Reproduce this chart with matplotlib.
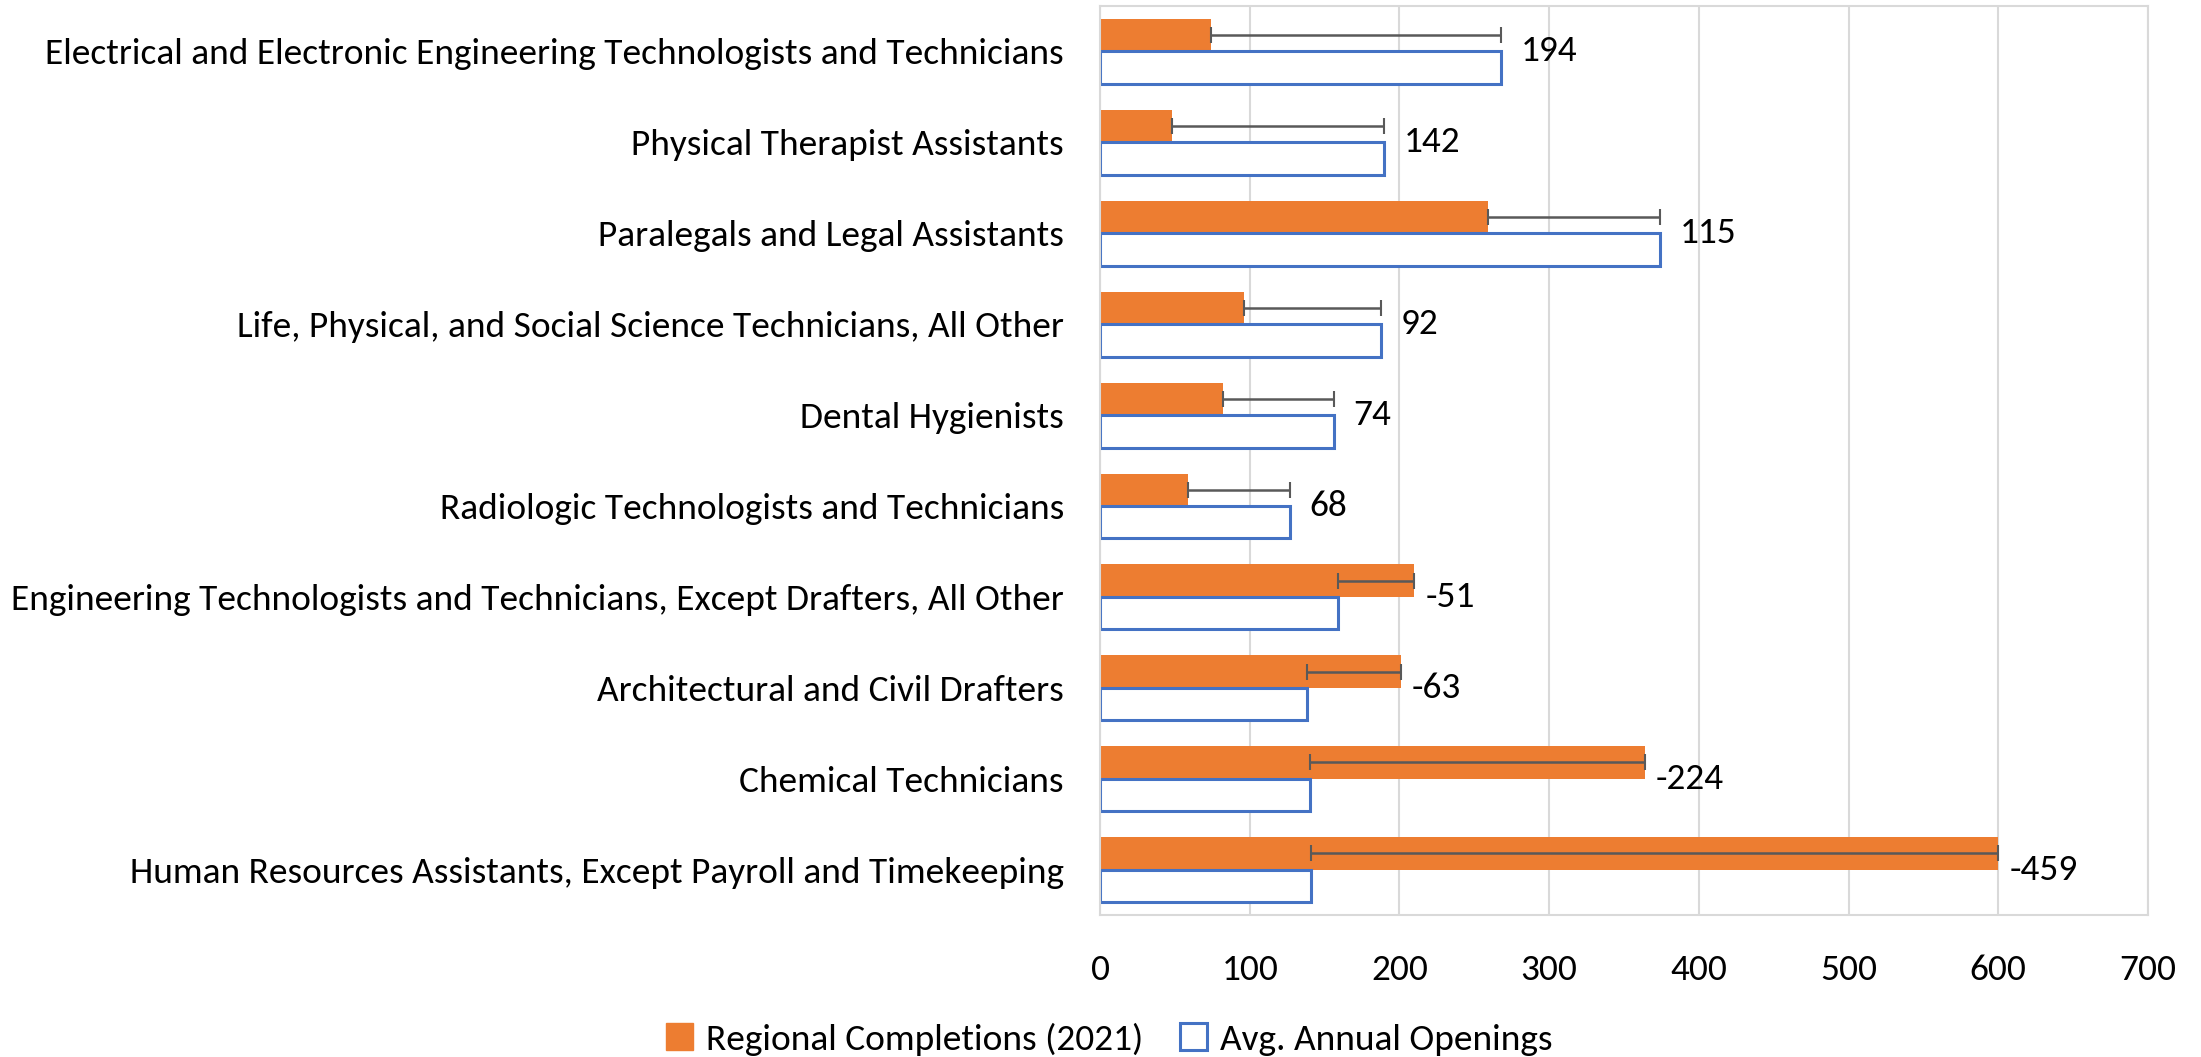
import matplotlib
matplotlib.use("Agg")
import matplotlib.pyplot as plt
from matplotlib import font_manager
from matplotlib.patches import Patch
from matplotlib.textpath import TextPath
from matplotlib.font_manager import FontProperties
import numpy as np

# --- dati ---
occupations = [
    "Electrical and Electronic Engineering Technologists and Technicians",
    "Physical Therapist Assistants",
    "Paralegals and Legal Assistants",
    "Life, Physical, and Social Science Technicians, All Other",
    "Dental Hygienists",
    "Radiologic Technologists and Technicians",
    "Engineering Technologists and Technicians, Except Drafters, All Other",
    "Architectural and Civil Drafters",
    "Chemical Technicians",
    "Human Resources Assistants, Except Payroll and Timekeeping",
]
completions = [74, 48, 259, 96, 82, 59, 210, 201, 364, 600]
openings = [268, 190, 374, 188, 156, 127, 159, 138, 140, 141]
gap_labels = [194, 142, 115, 92, 74, 68, -51, -63, -224, -459]
x_ticks = [0, 100, 200, 300, 400, 500, 600, 700]

ORANGE = "#ED7D31"
BLUE = "#4472C4"
GRID = "#D9D9D9"
ERR = "#595959"

# font tipo Calibri se c'è, altrimenti qualcosa di simile
available = {f.name for f in font_manager.fontManager.ttflist}
font = next(f for f in ["Carlito", "Liberation Sans Narrow", "Open Sans"] if f in available)
plt.rcParams["font.family"] = [font, "DejaVu Sans"]

# dimensione: la label più lunga nel riferimento è larga ~1049 px
probe = TextPath((0, 0), occupations[6], size=10, prop=FontProperties(family=font))
w10 = probe.get_extents().width  # in punti a size 10
FS = 10 * (1049 / (100 / 72)) / w10

fig = plt.figure(figsize=(22.01, 10.57), dpi=100)
ax = fig.add_axes([0.4998, 0.1343, 0.4761, 0.86])

y = np.arange(len(occupations))
h = 0.357

ax.barh(y - h / 2, completions, height=h, color=ORANGE, zorder=2)
ax.barh(y + h / 2, openings, height=h, facecolor="white", edgecolor=BLUE,
        linewidth=2.2, zorder=2)

# barre d'errore: dalla fine della barra arancione alla fine di quella blu
for yi, c, o in zip(y, completions, openings):
    lo, hi = min(c, o), max(c, o)
    ax.errorbar((lo + hi) / 2, yi - h / 2, xerr=(hi - lo) / 2, fmt="none",
                ecolor=ERR, elinewidth=1.8, capsize=6, capthick=1.5, zorder=3)

for yi, c, o, g in zip(y, completions, openings, gap_labels):
    off = 14 if g > 0 else 8
    ax.annotate(str(g), (max(c, o), yi), xytext=(off, 0), textcoords="offset points",
                ha="left", va="center", fontsize=FS, color="black")

ax.set_yticks(y)
ax.set_yticklabels(occupations, fontsize=FS)
ax.set_ylim(len(occupations) - 0.5, -0.5)
ax.set_xlim(0, 700)
ax.set_xticks(x_ticks)
ax.set_xticklabels([str(t) for t in x_ticks], fontsize=FS)
ax.tick_params(axis="both", length=0)
ax.tick_params(axis="y", pad=26)
ax.tick_params(axis="x", pad=28)

ax.grid(axis="x", color=GRID, linewidth=1.5, zorder=0)
ax.set_axisbelow(True)
for s in ax.spines.values():
    s.set_color(GRID)
    s.set_linewidth(1.5)

handles = [Patch(facecolor=ORANGE, edgecolor=ORANGE, label="Regional Completions (2021)"),
           Patch(facecolor="white", edgecolor=BLUE, linewidth=2.2, label="Avg. Annual Openings")]
fig.legend(handles=handles, loc="center", bbox_to_anchor=(0.504, 0.017), ncol=2,
           frameon=False, fontsize=FS, handlelength=0.7, handleheight=0.7,
           columnspacing=1.0, handletextpad=0.35)

fig.savefig("out.png", dpi=100)
